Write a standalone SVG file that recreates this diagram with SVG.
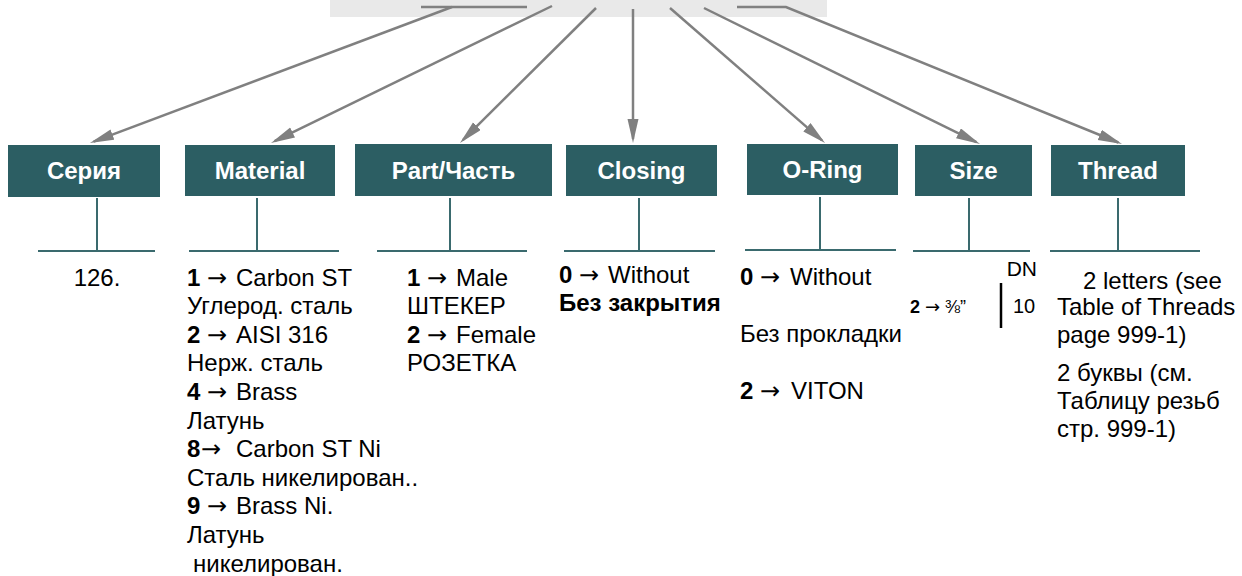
<svg xmlns="http://www.w3.org/2000/svg" width="1242" height="576" viewBox="0 0 1242 576">
<defs>
<marker id="ah" markerUnits="userSpaceOnUse" markerWidth="26" markerHeight="12" refX="20" refY="5.5" orient="auto">
<path d="M0,0 L24,5.5 L0,11 z" fill="#808080"/>
</marker>
<style>
.node rect{fill:#2c5e63}
.node text{font-family:"Liberation Sans",Arial,sans-serif;font-weight:bold;font-size:24px;fill:#ffffff;text-anchor:middle}
.stem{stroke:#3a6a6e;stroke-width:2;fill:none}
.conn{stroke:#808080;stroke-width:2.5;fill:none}
.t{font-family:"Liberation Sans",Arial,sans-serif;font-size:24px;fill:#000000}
.b{font-weight:bold}
.ar{font-family:"DejaVu Sans",sans-serif}
</style>
</defs>
<rect x="0" y="0" width="1242" height="576" fill="#ffffff"/>
<rect x="330" y="0" width="497" height="17" fill="#e9e9e9"/>

<g id="connectors">
<line class="conn" x1="421" y1="7" x2="527" y2="7"/>
<line class="conn" x1="452" y1="7" x2="93.7" y2="141.6" marker-end="url(#ah)"/>
<line class="conn" x1="552" y1="6" x2="274.6" y2="141.2" marker-end="url(#ah)"/>
<line class="conn" x1="596" y1="8" x2="462.8" y2="140.2" marker-end="url(#ah)"/>
<line class="conn" x1="633" y1="9" x2="633" y2="139" marker-end="url(#ah)"/>
<line class="conn" x1="670" y1="8" x2="822" y2="140.4" marker-end="url(#ah)"/>
<line class="conn" x1="704" y1="8" x2="976.4" y2="142.2" marker-end="url(#ah)"/>
<path class="conn" d="M737,7 L786,7 L1118.3,142.5" marker-end="url(#ah)"/>
<path class="stem" d="M97,198 V251 M38,251 H155"/>
<path class="stem" d="M257,198 V251 M189,251 H339"/>
<path class="stem" d="M450,198 V251 M377,251 H527"/>
<path class="stem" d="M639,198 V251 M564,251 H715"/>
<path class="stem" d="M820,197 V250 M745,250 H896"/>
<path class="stem" d="M969,198 V251 M913,251 H1030"/>
<path class="stem" d="M1118,198 V251 M1050,251 H1200"/>
</g>

<g id="node-seriya" class="node"><rect x="8" y="145" width="152" height="52"/><text x="84" y="179">Серия</text></g>
<g id="node-material" class="node"><rect x="185" y="145" width="150" height="51"/><text x="260" y="179">Material</text></g>
<g id="node-part" class="node"><rect x="355" y="144" width="197" height="52"/><text x="453.5" y="179">Part/Часть</text></g>
<g id="node-closing" class="node"><rect x="566" y="145" width="151" height="51"/><text x="641.5" y="179">Closing</text></g>
<g id="node-oring" class="node"><rect x="747" y="144" width="151" height="51"/><text x="822.5" y="178">O-Ring</text></g>
<g id="node-size" class="node"><rect x="915" y="145" width="117" height="51"/><text x="973.5" y="179">Size</text></g>
<g id="node-thread" class="node"><rect x="1051" y="145" width="134" height="51"/><text x="1118" y="179">Thread</text></g>

<g id="text-seriya">
<text class="t" x="97" y="285.5" text-anchor="middle">126.</text>
</g>
<g id="text-material">
<text class="t" x="187" y="285.5"><tspan class="b">1</tspan><tspan class="ar" x="207">→</tspan><tspan x="236">Carbon ST</tspan></text>
<text class="t" x="187" y="314">Углерод. сталь</text>
<text class="t" x="187" y="342.7"><tspan class="b">2</tspan><tspan class="ar" x="207">→</tspan><tspan x="236">AISI 316</tspan></text>
<text class="t" x="187" y="371.3">Нерж. сталь</text>
<text class="t" x="187" y="400"><tspan class="b">4</tspan><tspan class="ar" x="207">→</tspan><tspan x="236">Brass</tspan></text>
<text class="t" x="187" y="428.5">Латунь</text>
<text class="t" x="187" y="457"><tspan class="b">8</tspan><tspan class="ar" x="201">→</tspan><tspan x="236">Carbon ST Ni</tspan></text>
<text class="t" x="187" y="485.7">Сталь никелирован..</text>
<text class="t" x="187" y="514.3"><tspan class="b">9</tspan><tspan class="ar" x="207">→</tspan><tspan x="236">Brass Ni.</tspan></text>
<text class="t" x="187" y="543">Латунь</text>
<text class="t" x="193" y="571.5">никелирован.</text>
</g>
<g id="text-part">
<text class="t" x="407" y="285.5"><tspan class="b">1</tspan><tspan class="ar" x="427">→</tspan><tspan x="456">Male</tspan></text>
<text class="t" x="407" y="314">ШТЕКЕР</text>
<text class="t" x="407" y="342.7"><tspan class="b">2</tspan><tspan class="ar" x="427">→</tspan><tspan x="456">Female</tspan></text>
<text class="t" x="407" y="371.3">РОЗЕТКА</text>
</g>
<g id="text-closing">
<text class="t" x="559" y="282.5"><tspan class="b">0</tspan><tspan class="ar" x="579">→</tspan><tspan x="608">Without</tspan></text>
<text class="t b" x="559" y="311">Без закрытия</text>
</g>
<g id="text-oring">
<text class="t" x="740" y="285"><tspan class="b">0</tspan><tspan class="ar" x="760">→</tspan><tspan x="790">Without</tspan></text>
<text class="t" x="740" y="342">Без прокладки</text>
<text class="t" x="740" y="399"><tspan class="b">2</tspan><tspan class="ar" x="760">→</tspan><tspan x="791">VITON</tspan></text>
</g>
<g id="text-size">
<text class="t" x="1037" y="276" text-anchor="end" style="font-size:21px">DN</text>
<text class="t" x="910" y="313" style="font-size:18px"><tspan class="b">2</tspan><tspan class="ar" x="925">→</tspan><tspan x="945">⅜”</tspan></text>
<line x1="1001" y1="283" x2="1001" y2="328" stroke="#000000" stroke-width="2.5"/>
<text class="t" x="1013" y="313" style="font-size:20px">10</text>
</g>
<g id="text-thread">
<text class="t" x="1083" y="289">2 letters (see</text>
<text class="t" x="1057" y="315">Table of Threads</text>
<text class="t" x="1057" y="343">page 999-1)</text>
<text class="t" x="1057" y="381">2 буквы (см.</text>
<text class="t" x="1057" y="409">Таблицу резьб</text>
<text class="t" x="1057" y="437">стр. 999-1)</text>
</g>
</svg>
